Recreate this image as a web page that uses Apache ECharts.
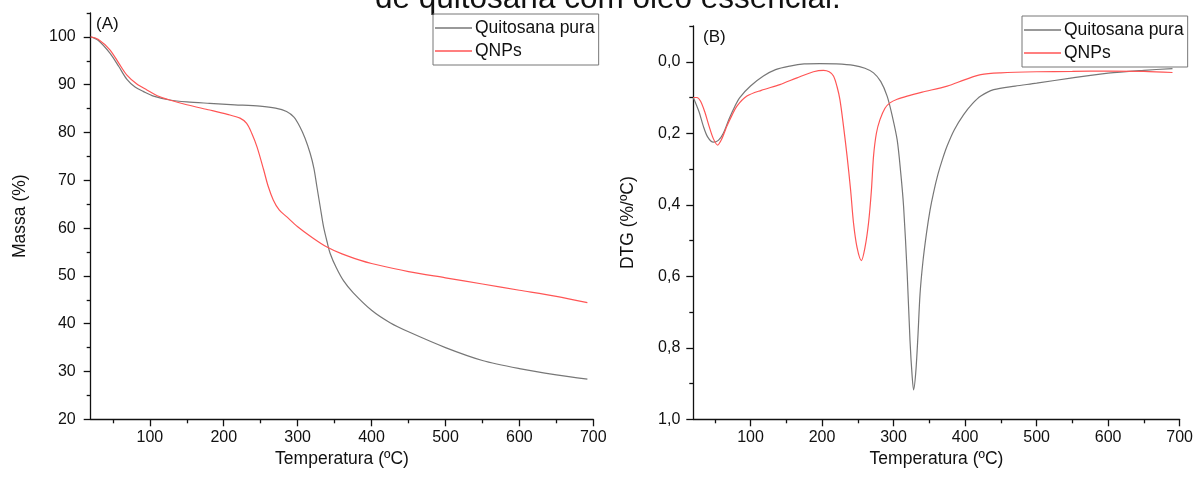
<!DOCTYPE html>
<html><head><meta charset="utf-8">
<script src="https://cdn.jsdelivr.net/npm/echarts@6/dist/echarts.min.js"></script>
<style>html,body{margin:0;padding:0;background:#fff}#c{width:1196px;height:482px}</style>
</head><body><div id="c"></div>
<script>
// ---- Data ----
const seriesNames = ['Quitosana pura', 'QNPs'];
// (A) TGA: temperature (ºC), mass (%)
const tgaQuitosanaT = [20,30,46,58,69,80,91,105,127,150,181,215,249,270,285,295,303,310,317,322,326,331,335,340,344,352,362,375,400,425,450,500,550,600,650,692];
const tgaQuitosanaM = [100,99.3,96.6,93.8,91.1,89.5,88.6,87.6,86.8,86.4,86.1,85.8,85.5,85.1,84.4,83.2,81.2,78.8,75.6,72.5,68.7,64,60.3,57,54.7,51.8,49,46.5,42.8,40.2,38.3,35,32.3,30.6,29.3,28.4];
const tgaQNPsT = [20,30,46,58,69,82,96,110,127,150,181,205,222,231,238,245,254,260,267,275,285,300,320,339,360,384,400,450,500,550,600,650,692];
const tgaQNPsM = [100,99.5,97.3,94.5,92,90.2,88.9,87.7,86.8,85.8,84.7,83.8,83,81.9,79.8,77,72.2,68.8,65.9,63.8,62.4,60.3,58,56.1,54.6,53.3,52.6,50.9,49.6,48.3,47,45.7,44.4];
// (B) DTG: temperature (ºC), DTG (%/ºC)
const dtgQuitosanaT = [20,28,34,40,48,55,62,70,78,85,100,118,135,155,175,197,220,244,260,272,282,291,298,305,310,314,319,323,326,328,331,334,337,341,346,351,356,362,368,375,385,398,410,422,440,470,500,550,600,650,690];
const dtgQuitosanaV = [0.10,0.14,0.18,0.21,0.225,0.22,0.20,0.16,0.125,0.10,0.068,0.04,0.022,0.012,0.006,0.005,0.006,0.01,0.018,0.031,0.055,0.096,0.15,0.218,0.31,0.404,0.59,0.78,0.88,0.918,0.87,0.77,0.65,0.56,0.48,0.415,0.365,0.315,0.275,0.235,0.19,0.148,0.118,0.096,0.078,0.068,0.06,0.045,0.032,0.024,0.019];
const dtgQNPsT = [20,25,30,36,42,48,54,60,67,74,81,95,115,141,165,188,202,210,216,221,225,230,235,240,244,249,255,260,265,269,272,276,281,288,295,305,319,340,375,400,422,450,500,550,600,650,690];
const dtgQNPsV = [0.10,0.10,0.11,0.14,0.18,0.215,0.233,0.215,0.18,0.15,0.124,0.096,0.08,0.064,0.045,0.028,0.024,0.028,0.04,0.07,0.106,0.18,0.264,0.36,0.451,0.52,0.556,0.52,0.451,0.36,0.264,0.2,0.162,0.13,0.115,0.105,0.096,0.085,0.068,0.05,0.036,0.031,0.028,0.027,0.026,0.027,0.03];
// Ticks
const xMajorTicks = [100,200,300,400,500,600,700];
const xMinorTicks = [50,150,250,350,450,550,650];
const massMajorTicks = [20,30,40,50,60,70,80,90,100];
const massMinorTicks = [25,35,45,55,65,75,85,95,105];
const dtgMajorTicks = [0,0.2,0.4,0.6,0.8,1.0];
const dtgMinorTicks = [-0.1,0.1,0.3,0.5,0.7,0.9];

const FONT = 'Liberation Sans, Arial, sans-serif';
const GRAY = '#777777', RED = '#ff5555';
const zip = (a, b) => a.map((v, i) => [v, b[i]]);

function axisBase(extra) {
  return Object.assign({
    type: 'value', splitLine: {show: false},
    axisLine: {show: true, onZero: false, lineStyle: {color: '#111', width: 1.3}},
    nameTextStyle: {fontFamily: FONT, fontSize: 17.5, color: '#111'}
  }, extra);
}
function majorTick(vals) { return {show: true, inside: false, length: 7, customValues: vals, lineStyle: {color: '#111', width: 1.3}}; }
function label(vals, margin, fmt) {
  const o = {fontFamily: FONT, fontSize: 16, color: '#111', margin: margin, customValues: vals};
  if (fmt) o.formatter = fmt;
  return o;
}
function minorAxis(type, grid, min, max, vals, extra) {
  return Object.assign({
    type: 'value', gridIndex: grid, min: min, max: max, position: type === 'x' ? 'bottom' : 'left',
    splitLine: {show: false}, axisLine: {show: false, onZero: false}, axisLabel: {show: false},
    axisTick: {show: true, inside: false, length: 4, customValues: vals, lineStyle: {color: '#111', width: 1.3}}
  }, extra || {});
}
const commaFmt = v => (Math.round(v * 10) / 10).toFixed(1).replace('.', ',');

const legendBase = {
  orient: 'vertical', itemWidth: 37, itemHeight: 1.6, itemGap: 3, padding: [4, 4, 4, 2], icon: 'rect',
  borderColor: '#777', borderWidth: 1, data: seriesNames,
  textStyle: {fontFamily: FONT, fontSize: 17.5, color: '#111', lineHeight: 20, padding: [0, 0, 0, -2]}
};

const option = {
  animation: false,
  backgroundColor: '#fff',
  grid: [
    {left: 90.7, top: 13, width: 502.6, height: 406.3},
    {left: 693.3, top: 26, width: 487.7, height: 393.3}
  ],
  xAxis: [
    axisBase({gridIndex: 0, min: 20, max: 700, position: 'bottom', name: 'Temperatura (ºC)', nameLocation: 'middle', nameGap: 30,
      axisTick: majorTick(xMajorTicks), axisLabel: label(xMajorTicks, 10)}),
    axisBase({gridIndex: 1, min: 20, max: 700, position: 'bottom', name: 'Temperatura (ºC)', nameLocation: 'middle', nameGap: 30,
      axisTick: majorTick(xMajorTicks), axisLabel: label(xMajorTicks, 10)}),
    minorAxis('x', 0, 20, 700, xMinorTicks),
    minorAxis('x', 1, 20, 700, xMinorTicks)
  ],
  yAxis: [
    axisBase({gridIndex: 0, min: 20, max: 105, position: 'left', name: 'Massa (%)', nameLocation: 'middle', nameRotate: 90, nameGap: 62,
      axisTick: majorTick(massMajorTicks), axisLabel: label(massMajorTicks, 15)}),
    axisBase({gridIndex: 1, min: -0.1, max: 1.0, inverse: true, position: 'left', name: 'DTG (%/ºC)', nameLocation: 'middle', nameRotate: 90, nameGap: 56,
      axisTick: majorTick(dtgMajorTicks), axisLabel: label(dtgMajorTicks, 13, commaFmt)}),
    minorAxis('y', 0, 20, 105, massMinorTicks),
    minorAxis('y', 1, -0.1, 1.0, dtgMinorTicks, {inverse: true})
  ],
  legend: [
    Object.assign({left: 433, top: 14}, legendBase),
    Object.assign({left: 1022, top: 16}, legendBase)
  ],
  graphic: [
    {type: 'text', left: 375, top: -17, style: {text: 'de quitosana com óleo essencial.', font: '31.5px ' + FONT, fill: '#111'}},
    {type: 'text', left: 96, top: 16, style: {text: '(A)', font: '17px ' + FONT, fill: '#111'}},
    {type: 'text', left: 703, top: 29, style: {text: '(B)', font: '17px ' + FONT, fill: '#111'}}
  ],
  series: [
    {name: seriesNames[0], type: 'line', xAxisIndex: 0, yAxisIndex: 0, data: zip(tgaQuitosanaT, tgaQuitosanaM), smooth: 0.3, symbol: 'none', lineStyle: {color: GRAY, width: 1.2}, itemStyle: {color: GRAY}},
    {name: seriesNames[1], type: 'line', xAxisIndex: 0, yAxisIndex: 0, data: zip(tgaQNPsT, tgaQNPsM), smooth: 0.3, symbol: 'none', lineStyle: {color: RED, width: 1.2}, itemStyle: {color: RED}},
    {name: seriesNames[0], type: 'line', xAxisIndex: 1, yAxisIndex: 1, data: zip(dtgQuitosanaT, dtgQuitosanaV), smooth: 0.3, symbol: 'none', lineStyle: {color: GRAY, width: 1.2}, itemStyle: {color: GRAY}},
    {name: seriesNames[1], type: 'line', xAxisIndex: 1, yAxisIndex: 1, data: zip(dtgQNPsT, dtgQNPsV), smooth: 0.3, symbol: 'none', lineStyle: {color: RED, width: 1.2}, itemStyle: {color: RED}}
  ]
};
const chart = echarts.init(document.getElementById('c'), null, {renderer: 'canvas'});
chart.setOption(option);
</script></body></html>
